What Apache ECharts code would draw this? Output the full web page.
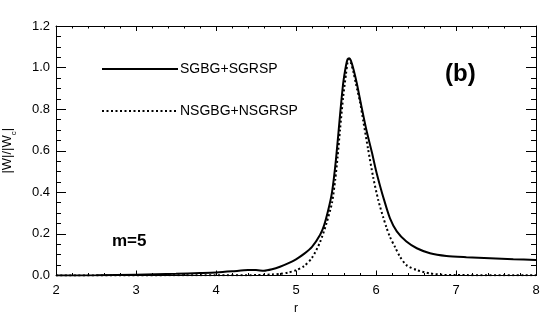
<!DOCTYPE html>
<html>
<head>
<meta charset="utf-8">
<script src="https://cdn.jsdelivr.net/npm/echarts@6/dist/echarts.min.js"></script>
<style>
html,body{margin:0;padding:0;background:#fff;}
#c{width:541px;height:318px;}
</style>
</head>
<body>
<div id="c"></div>
<script>
// Data
var rSolid = [2.0, 2.5, 3.0, 3.5, 3.8, 4.0, 4.2, 4.4, 4.5, 4.6, 4.7, 4.8, 4.9, 5.0, 5.1, 5.2, 5.3, 5.35, 5.4, 5.45, 5.5, 5.55, 5.59, 5.625, 5.645, 5.665, 5.685, 5.72, 5.76, 5.82, 5.88, 5.95, 6.0, 6.05, 6.1, 6.175, 6.26, 6.38, 6.51, 6.675, 6.88, 7.13, 7.425, 7.716, 8.0];
var wSolid = [0.0, 0.001, 0.004, 0.008, 0.012, 0.015, 0.02, 0.026, 0.026, 0.023, 0.03, 0.042, 0.058, 0.078, 0.104, 0.138, 0.195, 0.24, 0.31, 0.40, 0.56, 0.77, 0.925, 1.01, 1.04, 1.045, 1.035, 0.99, 0.925, 0.81, 0.70, 0.59, 0.505, 0.432, 0.365, 0.275, 0.212, 0.163, 0.131, 0.107, 0.094, 0.088, 0.083, 0.078, 0.075];
var rDotted = [2.0, 4.0, 4.5, 4.7, 4.8, 4.9, 5.0, 5.1, 5.2, 5.3, 5.38, 5.45, 5.49, 5.52, 5.55, 5.59, 5.625, 5.645, 5.665, 5.685, 5.72, 5.75, 5.80, 5.84, 5.90, 5.966, 6.03, 6.09, 6.13, 6.175, 6.24, 6.30, 6.38, 6.51, 6.675, 6.85, 7.0, 8.0];
var wDotted = [0.0, 0.001, 0.002, 0.005, 0.008, 0.014, 0.025, 0.045, 0.085, 0.16, 0.25, 0.35, 0.46, 0.57, 0.70, 0.86, 0.97, 1.025, 1.04, 1.025, 0.975, 0.92, 0.835, 0.745, 0.61, 0.47, 0.36, 0.28, 0.232, 0.185, 0.135, 0.09, 0.05, 0.026, 0.01, 0.003, 0.002, 0.001];
var xTicks = [2, 3, 4, 5, 6, 7, 8];
var yTicks = [0.0, 0.2, 0.4, 0.6, 0.8, 1.0, 1.2];
var seriesNames = ['SGBG+SGRSP', 'NSGBG+NSGRSP'];

function pairs(xs, ys){ return xs.map(function(x,i){ return [x, ys[i]]; }); }

var FONT = '"Liberation Sans", Arial, sans-serif';
var xMin = xTicks[0], xMax = xTicks[xTicks.length-1];
var yMin = yTicks[0], yMax = yTicks[yTicks.length-1];

function xAx(pos, labels){
  return {
    type:'value', position:pos, min:xMin, max:xMax, interval:1,
    axisLine:{show:true, onZero:false, lineStyle:{color:'#000', width:1}},
    axisTick:{show:true, inside:true, length:5, lineStyle:{color:'#000', width:1}},
    minorTick:{show:true, splitNumber:5, length:2.5, lineStyle:{color:'#000', width:1}},
    splitLine:{show:false},
    axisLabel:{show:labels, color:'#000', fontSize:13, fontFamily:FONT, margin:8},
    name: labels ? 'r' : '', nameLocation:'middle', nameGap:27,
    nameTextStyle:{color:'#000', fontSize:12, fontFamily:FONT}
  };
}
function yAx(pos, labels){
  return {
    type:'value', position:pos, min:yMin, max:yMax, interval:0.2,
    axisLine:{show:true, onZero:false, lineStyle:{color:'#000', width:1}},
    axisTick:{show:true, inside:true, length:10, lineStyle:{color:'#000', width:1}},
    minorTick:{show:true, splitNumber:4, length:5, lineStyle:{color:'#000', width:1}},
    splitLine:{show:false},
    axisLabel:{show:labels, color:'#000', fontSize:13, fontFamily:FONT, margin:6,
      formatter:function(v){ return v.toFixed(1); }},
    name: labels ? '|W|/|W{s|c}|' : '', nameLocation:'middle', nameGap:42, nameRotate:90,
    nameTextStyle:{color:'#000', fontSize:13, fontFamily:FONT,
      rich:{s:{fontSize:8, fontFamily:FONT, color:'#000', verticalAlign:'bottom', padding:[0,0,-4,0]}}}
  };
}

var chart = echarts.init(document.getElementById('c'), null, {renderer:'canvas'});
chart.setOption({
  animation:false,
  backgroundColor:'#fff',
  grid:{left:56, right:5, top:26, bottom:42.5, containLabel:false, outerBoundsMode:'none'},
  xAxis:[xAx('bottom', true), xAx('top', false)],
  yAxis:[yAx('left', true), yAx('right', false)],
  legend:{
    show:true, orient:'vertical', left:96, top:57, itemWidth:76, itemHeight:14, itemGap:28,
    data:seriesNames,
    itemStyle:{opacity:0},
    textStyle:{color:'#000', fontSize:14, fontFamily:FONT, padding:[0,0,0,-3]},
    selectedMode:false
  },
  graphic:[
    {type:'text', left:445, top:62, style:{text:'(b)', fill:'#000', font:'bold 24px "Liberation Sans", Arial, sans-serif'}},
    {type:'text', left:112, top:233, style:{text:'m=5', fill:'#000', font:'bold 17px "Liberation Sans", Arial, sans-serif'}}
  ],
  series:[
    {name:seriesNames[0], type:'line', data:pairs(rSolid, wSolid), symbol:'none', smooth:0.25,
     lineStyle:{color:'#000', width:2, type:'solid'}, itemStyle:{color:'#000'}},
    {name:seriesNames[1], type:'line', data:pairs(rDotted, wDotted), symbol:'none', smooth:0.25,
     lineStyle:{color:'#000', width:2, type:[2,2.5]}, itemStyle:{color:'#000'}}
  ]
});
</script>
</body>
</html>
